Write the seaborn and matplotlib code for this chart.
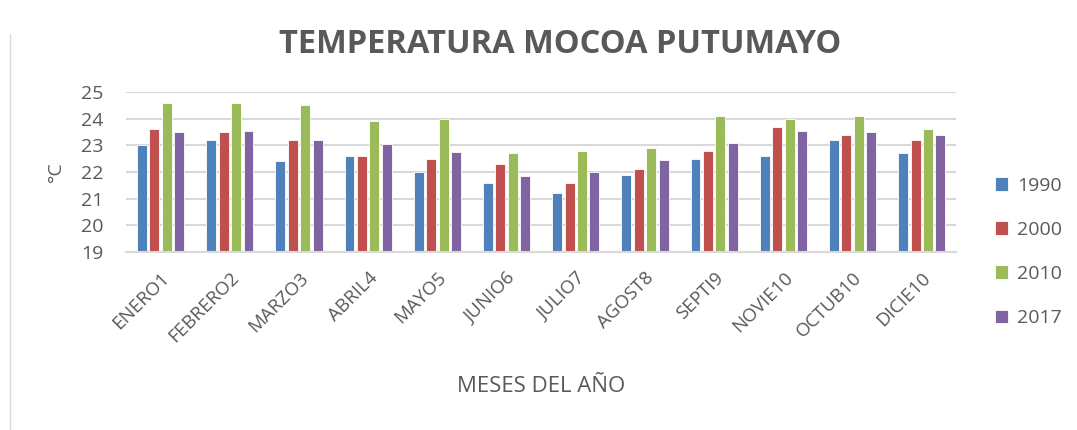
import pandas as pd
import matplotlib.pyplot as plt
import seaborn as sns
from matplotlib.lines import Line2D

# Datos
meses = ["ENERO1", "FEBRERO2", "MARZO3", "ABRIL4", "MAYO5", "JUNIO6",
         "JULIO7", "AGOST8", "SEPTI9", "NOVIE10", "OCTUB10", "DICIE10"]
t1990 = [23.0, 23.2, 22.4, 22.6, 22.0, 21.6, 21.2, 21.9, 22.5, 22.6, 23.2, 22.7]
t2000 = [23.6, 23.5, 23.2, 22.6, 22.5, 22.3, 21.6, 22.1, 22.8, 23.7, 23.4, 23.2]
t2010 = [24.6, 24.6, 24.5, 23.9, 24.0, 22.7, 22.8, 22.9, 24.1, 24.0, 24.1, 23.6]
t2017 = [23.5, 23.55, 23.2, 23.05, 22.75, 21.85, 22.0, 22.45, 23.1, 23.55, 23.5, 23.4]
anios = ["1990", "2000", "2010", "2017"]
colores = ["#4F81BD", "#C0504D", "#9BBB59", "#8064A2"]

df = pd.DataFrame({"Mes": meses, "1990": t1990, "2000": t2000,
                   "2010": t2010, "2017": t2017})
df = df.melt(id_vars="Mes", var_name="Año", value_name="Temp")

sns.set_style("white")
plt.rcParams["font.family"] = ["Open Sans", "DejaVu Sans"]
gris = "#595959"

fig = plt.figure(figsize=(10.77, 4.3), dpi=100)
ax = fig.add_axes([0.117, 0.414, 0.771, 0.372])

sns.barplot(data=df, x="Mes", y="Temp", hue="Año", hue_order=anios,
            palette=colores, width=0.72, gap=0.2, ax=ax,
            edgecolor="white", linewidth=0.6, saturation=1)

ax.set_ylim(19, 25)
ax.set_yticks(range(19, 26))
ax.yaxis.grid(True, color="#D9D9D9", linewidth=1.5)
ax.set_axisbelow(True)
ax.set_xlim(-0.5, len(meses) - 0.5)
for s in ["top", "right", "left"]:
    ax.spines[s].set_visible(False)
ax.spines["bottom"].set_color("#D9D9D9")
ax.spines["bottom"].set_linewidth(1.5)
ax.tick_params(axis="y", labelsize=14, labelcolor=gris, length=0, pad=16)
ax.tick_params(axis="x", labelsize=13.5, labelcolor=gris, length=0, pad=12)
plt.setp(ax.get_xticklabels(), rotation=45, ha="right", rotation_mode="anchor")

ax.set_xlabel("MESES DEL AÑO", fontsize=16, color=gris, labelpad=22)
ax.set_ylabel("°C", fontsize=14, color=gris, labelpad=12)

fig.suptitle("TEMPERATURA MOCOA PUTUMAYO", x=0.52, y=0.935,
             fontsize=23.5, fontweight="bold", color=gris)

leg = ax.legend(loc="center left", bbox_to_anchor=(1.025, 0.0), frameon=False,
                fontsize=14, labelspacing=1.35, handlelength=0.7,
                handleheight=0.7, handletextpad=0.45)
for t in leg.get_texts():
    t.set_color(gris)

fig.add_artist(Line2D([0.009, 0.009], [0.0, 0.92], color="#D9D9D9", linewidth=1))

fig.savefig("out.png", dpi=100)
